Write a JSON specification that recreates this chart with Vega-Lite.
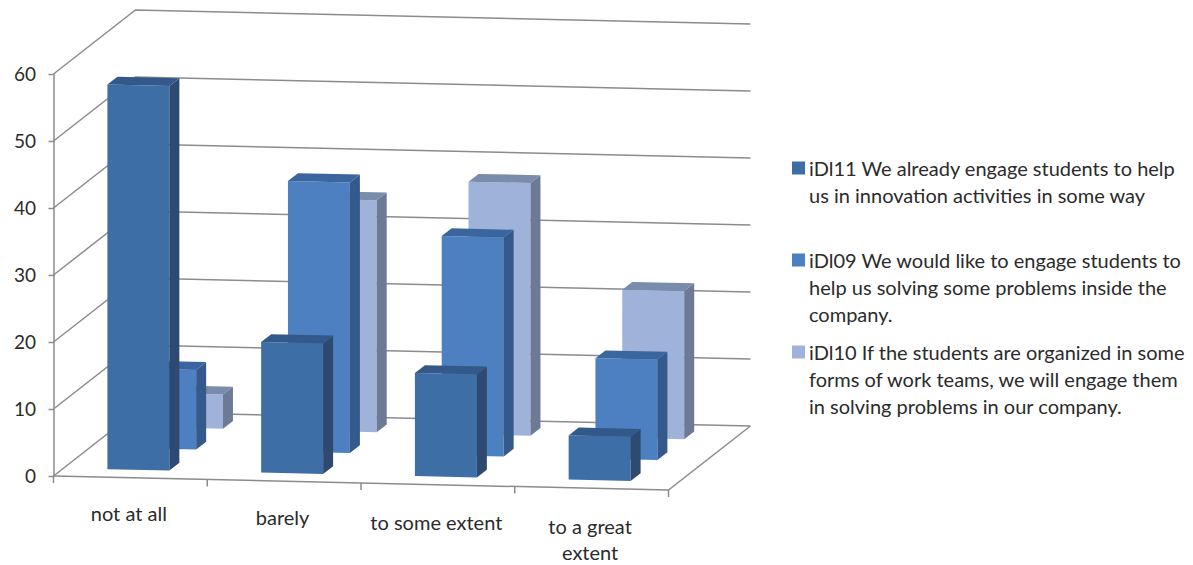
{
  "$schema": "https://vega.github.io/schema/vega-lite/v6.json",
  "width": 615,
  "height": 402,
  "autosize": {"type": "none"},
  "padding": {"left": 53.5, "top": 74, "right": 524.5, "bottom": 89},
  "background": "white",
  "view": {"stroke": null},
  "config": {"font": "Lato"},
  "datasets": {
    "bars": [
      {"category": "not at all", "series": "iDl10", "value": 5.1},
      {"category": "barely", "series": "iDl10", "value": 34.6},
      {"category": "to some extent", "series": "iDl10", "value": 37.7},
      {"category": "to a great extent", "series": "iDl10", "value": 22.1},
      {"category": "not at all", "series": "iDl09", "value": 11.9},
      {"category": "barely", "series": "iDl09", "value": 40.4},
      {"category": "to some extent", "series": "iDl09", "value": 32.7},
      {"category": "to a great extent", "series": "iDl09", "value": 15},
      {"category": "not at all", "series": "iDl11", "value": 57.4},
      {"category": "barely", "series": "iDl11", "value": 19.5},
      {"category": "to some extent", "series": "iDl11", "value": 15.4},
      {"category": "to a great extent", "series": "iDl11", "value": 6.6}
    ],
    "levels": [
      {"level": 0}, {"level": 10}, {"level": 20}, {"level": 30},
      {"level": 40}, {"level": 50}, {"level": 60}
    ],
    "floorEdge": [
      {"along": 0, "deep": 0},
      {"along": 4, "deep": 0},
      {"along": 4, "deep": 1}
    ],
    "ticks": [{"along": 0}, {"along": 1}, {"along": 2}, {"along": 3}, {"along": 4}],
    "categories": [
      {"slot": 0, "name": ["not at all"]},
      {"slot": 1, "name": ["barely"]},
      {"slot": 2, "name": ["to some extent"]},
      {"slot": 3, "name": ["to a great", "extent"]}
    ]
  },
  "encoding": {
    "x": {
      "field": "px",
      "type": "quantitative",
      "scale": {"domain": [0, 4], "nice": false, "zero": false},
      "axis": null
    },
    "y": {
      "field": "py",
      "type": "quantitative",
      "scale": {"domain": [0, 60], "nice": false, "zero": false},
      "axis": {
        "title": null,
        "values": [0, 10, 20, 30, 40, 50, 60],
        "grid": false,
        "domainColor": "#8c8c8c",
        "domainWidth": 1.5,
        "tickColor": "#8c8c8c",
        "tickWidth": 1.5,
        "tickSize": 5.5,
        "labelPadding": 12.5,
        "labelFont": "Lato",
        "labelFontSize": 19,
        "labelColor": "#2b2b2b"
      }
    }
  },
  "layer": [
    {
      "description": "Wall gridlines: from the front left edge, back along the side wall, then across the back wall",
      "data": {"name": "levels"},
      "transform": [
        {"calculate": "[0, 1, 2]", "as": "vertex"},
        {"flatten": ["vertex"]},
        {"calculate": "datum.vertex == 2 ? 4 : 0", "as": "along"},
        {"calculate": "datum.vertex == 0 ? 0 : 1", "as": "deep"},
        {"calculate": "datum.along + 0.533 * datum.deep", "as": "px"},
        {"calculate": "datum.level - 0.522 * datum.along + 9.55 * datum.deep", "as": "py"}
      ],
      "mark": {"type": "line", "color": "#8c8c8c", "strokeWidth": 1.5, "clip": false},
      "encoding": {
        "detail": {"field": "level"},
        "order": {"field": "vertex"}
      }
    },
    {
      "description": "Front and right edges of the floor",
      "data": {"name": "floorEdge"},
      "transform": [
        {"calculate": "datum.along + 0.533 * datum.deep", "as": "px"},
        {"calculate": "-0.522 * datum.along + 9.55 * datum.deep", "as": "py"}
      ],
      "mark": {"type": "line", "color": "#8c8c8c", "strokeWidth": 1.5, "clip": false},
      "encoding": {"order": {"field": "along"}}
    },
    {
      "description": "Category tick marks hanging off the front edge",
      "data": {"name": "ticks"},
      "transform": [
        {"calculate": "datum.along", "as": "px"},
        {"calculate": "-0.522 * datum.along", "as": "py"},
        {"calculate": "datum.py - 1.05", "as": "py2"}
      ],
      "mark": {"type": "rule", "color": "#8c8c8c", "strokeWidth": 1.5, "clip": false},
      "encoding": {"y2": {"field": "py2"}}
    },
    {
      "description": "Bars as three projected faces; rows run back to front so nearer bars paint last",
      "data": {"name": "bars"},
      "transform": [
        {"calculate": "indexof(['not at all', 'barely', 'to some extent', 'to a great extent'], datum.category)", "as": "slot"},
        {"calculate": "indexof(['iDl11', 'iDl09', 'iDl10'], datum.series)", "as": "rank"},
        {"calculate": "['front', 'side', 'top']", "as": "face"},
        {"flatten": ["face"]},
        {"calculate": "[0, 1, 2, 3]", "as": "corner"},
        {"flatten": ["corner"]},
        {"calculate": "datum.face == 'side' ? 1 : (datum.corner == 1 || datum.corner == 2 ? 1 : 0)", "as": "across"},
        {"calculate": "datum.face == 'front' ? 0 : datum.face == 'side' ? (datum.corner == 1 || datum.corner == 2 ? 1 : 0) : (datum.corner >= 2 ? 1 : 0)", "as": "backward"},
        {"calculate": "datum.face == 'top' ? 1 : (datum.corner >= 2 ? 1 : 0)", "as": "raised"},
        {"calculate": "datum.slot + 0.285 + 0.403 * datum.across", "as": "along"},
        {"calculate": "0.123 + 0.327 * datum.rank + 0.122 * datum.backward", "as": "deep"},
        {"calculate": "datum.along + 0.533 * datum.deep", "as": "px"},
        {"calculate": "datum.value * datum.raised - 0.522 * datum.along + 9.55 * datum.deep", "as": "py"},
        {"calculate": "datum.series + ' ' + datum.face", "as": "tone"},
        {"calculate": "datum.series + datum.category + datum.face", "as": "faceId"}
      ],
      "mark": {"type": "line", "interpolate": "linear-closed", "filled": true, "clip": false},
      "encoding": {
        "color": {
          "field": "tone",
          "type": "nominal",
          "scale": {
            "domain": [
              "iDl11 front", "iDl11 side", "iDl11 top",
              "iDl09 front", "iDl09 side", "iDl09 top",
              "iDl10 front", "iDl10 side", "iDl10 top"
            ],
            "range": [
              "#3e6ea6", "#2e4a70", "#33598a",
              "#4c80c1", "#35598a", "#3b659e",
              "#9fb3da", "#6c7a95", "#7a8cab"
            ]
          },
          "legend": {
            "title": null,
            "orient": "none",
            "legendX": 735,
            "legendY": 84,
            "values": ["iDl11 front", "iDl09 front", "iDl10 front"],
            "symbolType": "square",
            "symbolSize": 169,
            "symbolStrokeWidth": 0,
            "labelFont": "Lato",
            "labelFontSize": 20,
            "labelColor": "#2b2b2b",
            "labelLimit": 500,
            "labelOffset": 0.5,
            "labelBaseline": "alphabetic",
            "rowPadding": 16,
            "labelExpr": "{'iDl11 front': ['iDl11 We already engage students to help', 'us in innovation activities in some way', ' '], 'iDl09 front': ['iDl09 We would like to engage students to', 'help us solving some problems inside the', 'company.'], 'iDl10 front': ['iDl10 If the students are organized in some', 'forms of work teams, we will engage them', 'in solving problems in our company.']}[datum.label]",
            "encoding": {
              "labels": {"lineHeight": {"value": 27}, "dy": {"value": 8}}
            }
          }
        },
        "detail": {"field": "faceId"},
        "order": {"field": "corner"}
      }
    },
    {
      "description": "Category names under the front edge, stepping down a little faster than the edge itself",
      "data": {"name": "categories"},
      "transform": [
        {"calculate": "datum.slot + 0.49", "as": "px"},
        {"calculate": "-0.66 * datum.px - 6.4", "as": "py"}
      ],
      "mark": {"type": "text", "font": "Lato", "fontSize": 20, "color": "#2b2b2b", "align": "center", "baseline": "alphabetic", "lineHeight": 26, "clip": false},
      "encoding": {"text": {"field": "name"}}
    }
  ]
}
